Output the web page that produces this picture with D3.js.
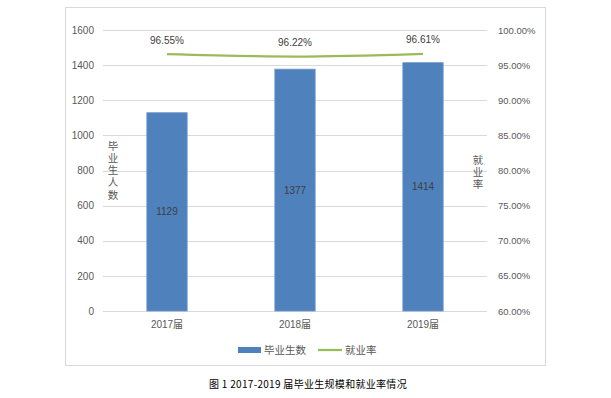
<!DOCTYPE html>
<html>
<head>
<meta charset="utf-8">
<script src="https://cdn.jsdelivr.net/npm/d3@7"></script>
<style>
body { margin: 0; background: #fff; }
svg text { font-family: "Liberation Sans", "Noto Sans CJK SC", sans-serif; }
</style>
</head>
<body>
<svg width="611" height="398"></svg>
<script>
const WIDTH = 611
const HEIGHT = 398

// data
const categories = ["2017届", "2018届", "2019届"]
const graduates = [1129, 1377, 1414]
const rates = [0.9655, 0.9622, 0.9661]
const leftTicks = [0, 200, 400, 600, 800, 1000, 1200, 1400, 1600]
const rightTicks = [0.60, 0.65, 0.70, 0.75, 0.80, 0.85, 0.90, 0.95, 1.00]

const PLOT = { left: 103, right: 487, top: 30, bottom: 311 }
const CJK = '"Noto Sans CJK SC", sans-serif'

const svg = d3.select("svg")

// outer frame
svg.append("rect")
    .attr("x", 65.5).attr("y", 7.5)
    .attr("width", 480).attr("height", 358)
    .attr("fill", "none")
    .attr("stroke", "#d9d9d9")

const x = d3.scaleBand()
    .domain(categories)
    .range([PLOT.left, PLOT.right])
    .paddingInner(0.685)
    .paddingOuter(0.3425)

const yLeft = d3.scaleLinear()
    .domain([0, 1600])
    .range([PLOT.bottom, PLOT.top])

const yRight = d3.scaleLinear()
    .domain([0.6, 1.0])
    .range([PLOT.bottom, PLOT.top])

// gridlines
svg.append("g")
    .selectAll("line")
    .data(leftTicks)
    .join("line")
    .attr("x1", PLOT.left).attr("x2", PLOT.right)
    .attr("y1", d => Math.round(yLeft(d)) + 0.5)
    .attr("y2", d => Math.round(yLeft(d)) + 0.5)
    .attr("stroke", "#d9d9d9")

// left axis
const axL = svg.append("g")
    .attr("transform", "translate(" + (PLOT.left - 9) + ",0)")
    .call(d3.axisLeft(yLeft).tickValues(leftTicks).tickSize(0).tickPadding(0)
        .tickFormat(d3.format("d")))
axL.select(".domain").remove()
axL.selectAll("text").attr("fill", "#595959").style("font-size", "10px")

// right axis
const axR = svg.append("g")
    .attr("transform", "translate(" + (PLOT.right + 11) + ",0)")
    .call(d3.axisRight(yRight).tickValues(rightTicks).tickSize(0).tickPadding(0)
        .tickFormat(d3.format(".2%")))
axR.select(".domain").remove()
axR.selectAll("text").attr("fill", "#595959").style("font-size", "9.5px")

// category axis
const axB = svg.append("g")
    .attr("transform", "translate(0," + (PLOT.bottom + 10) + ")")
    .call(d3.axisBottom(x).tickSize(0).tickPadding(0))
axB.select(".domain").remove()
axB.selectAll("text").attr("fill", "#595959").style("font-size", "10px")

// bars
svg.append("g")
    .selectAll("rect")
    .data(graduates)
    .join("rect")
    .attr("x", (d, i) => x(categories[i]))
    .attr("width", x.bandwidth())
    .attr("y", d => yLeft(d))
    .attr("height", d => yLeft(0) - yLeft(d))
    .attr("fill", "#4f81bd")
    .attr("stroke", "#6b97cc")
    .attr("stroke-width", 0.8)

// bar labels
svg.append("g")
    .selectAll("text")
    .data(graduates)
    .join("text")
    .attr("x", (d, i) => x(categories[i]) + x.bandwidth() / 2)
    .attr("y", d => (yLeft(d) + yLeft(0)) / 2)
    .attr("dy", "0.35em")
    .attr("text-anchor", "middle")
    .attr("fill", "#404040")
    .style("font-size", "10px")
    .text(d => d)

// rate line
const line = d3.line()
    .x((d, i) => x(categories[i]) + x.bandwidth() / 2)
    .y(d => yRight(d))
    .curve(d3.curveMonotoneX)

svg.append("path")
    .datum(rates)
    .attr("d", line)
    .attr("fill", "none")
    .attr("stroke", "#9bbb59")
    .attr("stroke-width", 2.25)

svg.append("g")
    .selectAll("text")
    .data(rates)
    .join("text")
    .attr("x", (d, i) => x(categories[i]) + x.bandwidth() / 2)
    .attr("y", d => yRight(d) - 14)
    .attr("dy", "0.35em")
    .attr("text-anchor", "middle")
    .attr("fill", "#404040")
    .style("font-size", "10px")
    .text(d => d3.format(".2%")(d))

// vertical axis titles, one text each, set top to bottom
function verticalTitle(label, cx, cy) {
    svg.append("text")
        .attr("x", cx)
        .attr("y", cy)
        .attr("text-anchor", "middle")
        .attr("fill", "#595959")
        .style("font-family", CJK)
        .style("font-size", "10.5px")
        .style("writing-mode", "vertical-rl")
        .style("letter-spacing", "1.7px")
        .text(label)
}
verticalTitle("毕业生人数", 113, 171)
verticalTitle("就业率", 478, 173)

// legend
const legend = svg.append("g").attr("transform", "translate(0,350)")
legend.append("rect")
    .attr("x", 238).attr("y", -3)
    .attr("width", 23).attr("height", 6)
    .attr("fill", "#4f81bd")
legend.append("text")
    .attr("x", 264).attr("dy", "0.35em")
    .attr("fill", "#595959")
    .style("font-family", CJK)
    .style("font-size", "10.5px")
    .text("毕业生数")
legend.append("line")
    .attr("x1", 318).attr("x2", 342)
    .attr("stroke", "#9bbb59")
    .attr("stroke-width", 2.25)
legend.append("text")
    .attr("x", 345).attr("dy", "0.35em")
    .attr("fill", "#595959")
    .style("font-family", CJK)
    .style("font-size", "10.5px")
    .text("就业率")

// caption
svg.append("text")
    .attr("x", 308).attr("y", 384)
    .attr("dy", "0.35em")
    .attr("text-anchor", "middle")
    .attr("fill", "#000")
    .style("font-family", CJK)
    .style("font-size", "10px")
    .style("letter-spacing", "0.3px")
    .text("图 1 2017-2019 届毕业生规模和就业率情况")
</script>
</body>
</html>
